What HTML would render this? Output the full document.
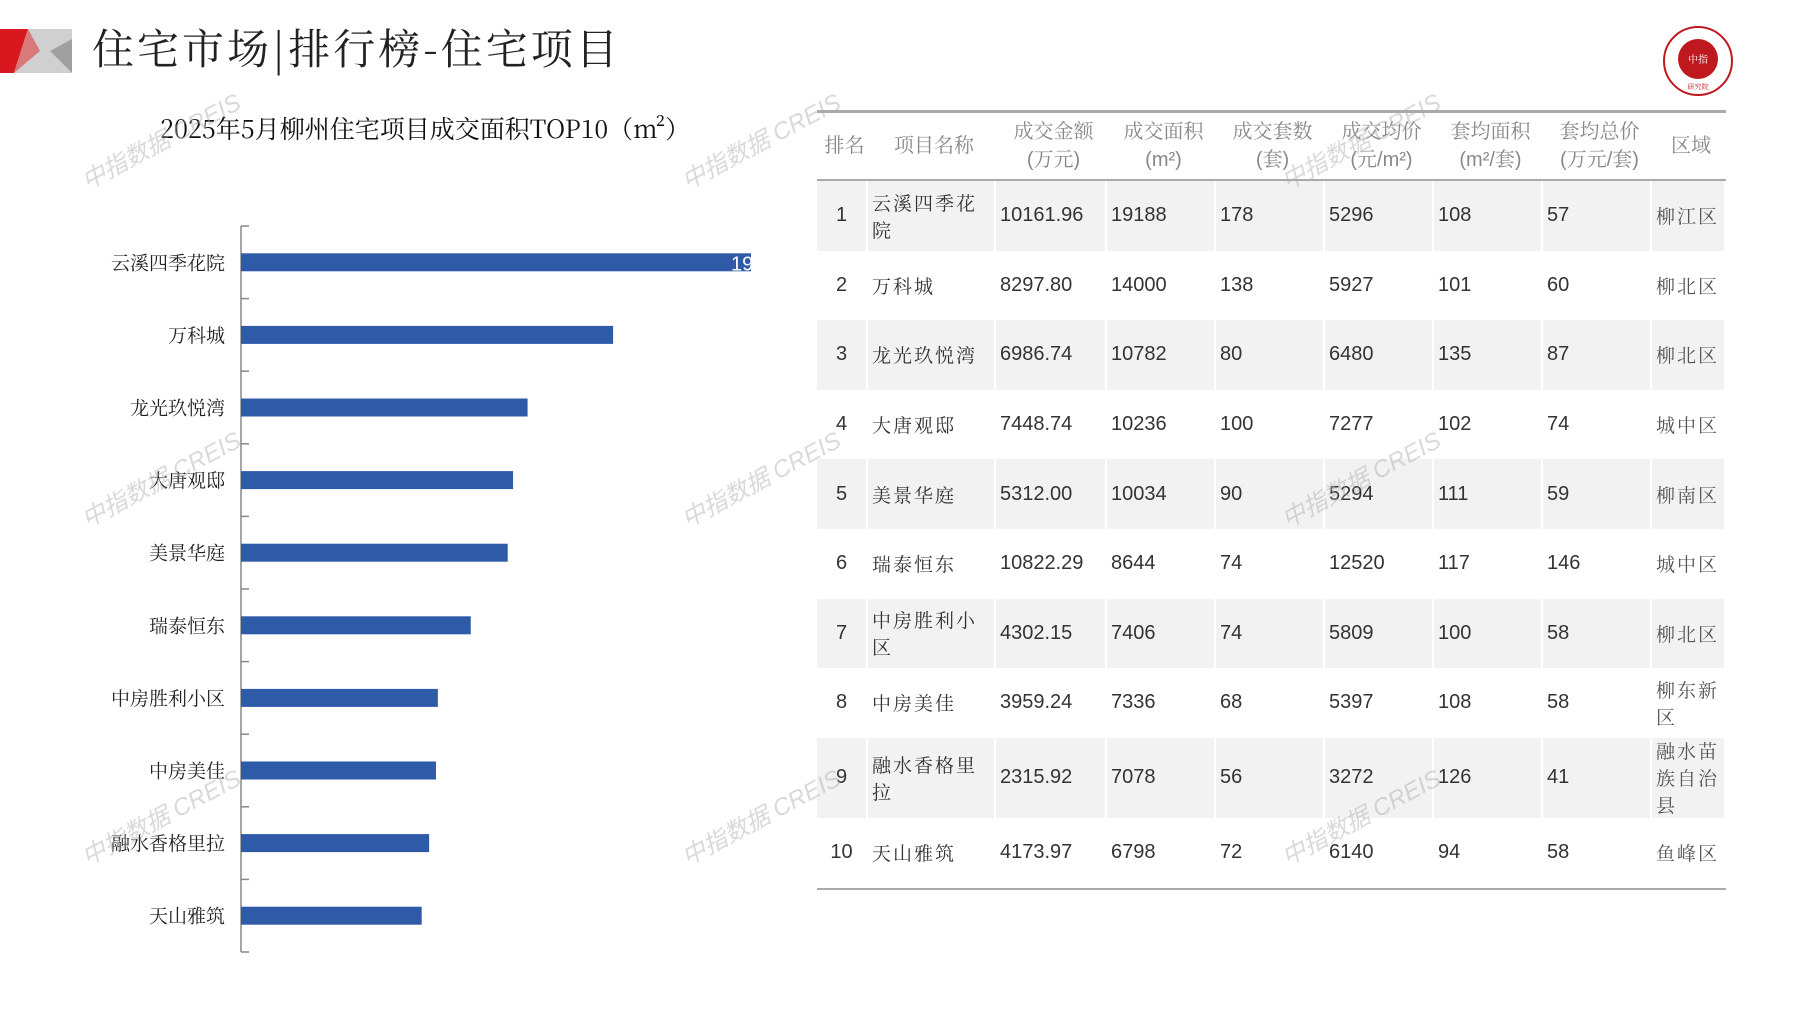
<!DOCTYPE html>
<html><head><meta charset="utf-8">
<style>
body{margin:0;width:1797px;height:1010px;background:#fff;position:relative;overflow:hidden;font-family:"Liberation Sans Narrow","Liberation Sans","Noto Serif CJK SC","Noto Sans CJK SC",sans-serif;}
.abs{position:absolute}
.wm{position:absolute;color:rgba(170,170,170,0.45);font-size:24px;transform:rotate(-28deg);white-space:nowrap;font-family:"Liberation Sans","Noto Sans CJK SC",sans-serif;font-style:italic;pointer-events:none;z-index:5}
.cell{position:absolute;font-size:20px;color:#333;display:flex;align-items:center;box-sizing:border-box;padding-left:4px;line-height:27px}
.hd{color:#888;justify-content:center;text-align:center;line-height:28px}
</style></head><body>
<svg class="abs" style="left:0;top:29px" width="74" height="44">
<polygon points="0,0 28,0 14,44 0,44" fill="#d7191f"/>
<polygon points="28,0 72,0 72,44 14,44" fill="#d0d0d0"/>
<polygon points="72,10 50,22 72,44" fill="#a0a0a0"/>
<polygon points="14,44 28,0 40,22" fill="#e04040" opacity="0.6"/>
</svg>
<div class="abs" style="left:92px;top:17px;font-size:42px;color:#222;letter-spacing:3px;font-family:'Noto Serif CJK SC','Noto Sans CJK SC',sans-serif">住宅市场|排行榜-住宅项目</div>
<svg class="abs" style="left:1662px;top:25px" width="72" height="72">
<circle cx="36" cy="36" r="34" fill="#fff" stroke="#c0181f" stroke-width="2"/>
<circle cx="36" cy="34" r="20" fill="#c0181f"/>
<text x="36" y="64" font-size="7" fill="#c0181f" text-anchor="middle">研究院</text>
<text x="36" y="38" font-size="10" fill="#fff" text-anchor="middle">中指</text>
</svg>
<div class="abs" style="left:160px;top:110px;font-size:25px;color:#111;font-family:'Liberation Sans Narrow','Noto Serif CJK SC',sans-serif">2025年5月柳州住宅项目成交面积TOP10（m²）</div>
<svg id="chart" class="abs" style="left:0;top:0" width="800" height="1010"></svg>
<div id="table"></div>
<script>
const categories=["云溪四季花院","万科城","龙光玖悦湾","大唐观邸","美景华庭","瑞泰恒东","中房胜利小区","中房美佳","融水香格里拉","天山雅筑"];
const areaValues=[19188,14000,10782,10236,10034,8644,7406,7336,7078,6798];
const NS="http://www.w3.org/2000/svg";
const svg=document.getElementById('chart');
const x0=241,xMax=751,top0=226,step=72.6,barH=18;
const xs=v=>x0+(xMax-x0)*v/19188;
const yc=i=>top0+step*(i+0.5);
function mk(t,a){const e=document.createElementNS(NS,t);for(const k in a)e.setAttribute(k,a[k]);svg.appendChild(e);return e;}
const defs=mk('defs',{});
const cp=document.createElementNS(NS,'clipPath');cp.setAttribute('id','clip');
const cr=document.createElementNS(NS,'rect');cr.setAttribute('x',0);cr.setAttribute('y',0);cr.setAttribute('width',xMax);cr.setAttribute('height',1010);
cp.appendChild(cr);defs.appendChild(cp);
const ax=mk('line',{x1:x0,x2:x0,y1:top0,y2:top0+step*categories.length,stroke:'#888','stroke-width':1.5});


for(let i=0;i<=categories.length;i++){
 const t=mk('line',{x1:x0,x2:x0+8,y1:top0+step*i,y2:top0+step*i,stroke:'#888','stroke-width':1.5});
 
 
}
categories.forEach((c,i)=>{
 const r=mk('rect',{x:x0,y:yc(i)-barH/2,width:xs(areaValues[i])-x0,height:barH,fill:'#2f5aa8'});
 
 
 const l=mk('text',{x:225,y:yc(i)+7,'text-anchor':'end','font-size':19,fill:'#222','font-family':'Noto Serif CJK SC,Noto Sans CJK SC,sans-serif'});
 l.textContent=c;
 
 
});
const vl=mk('text',{x:xs(areaValues[0])-20,y:yc(0)+8,'font-size':20,fill:'#fff','clip-path':'url(#clip)'});
vl.textContent=areaValues[0];



const headers=["排名","项目名称","成交金额<br>(万元)","成交面积<br>(m²)","成交套数<br>(套)","成交均价<br>(元/m²)","套均面积<br>(m²/套)","套均总价<br>(万元/套)","区域"];
const rows=[
["1","云溪四季花院","10161.96","19188","178","5296","108","57","柳江区"],
["2","万科城","8297.80","14000","138","5927","101","60","柳北区"],
["3","龙光玖悦湾","6986.74","10782","80","6480","135","87","柳北区"],
["4","大唐观邸","7448.74","10236","100","7277","102","74","城中区"],
["5","美景华庭","5312.00","10034","90","5294","111","59","柳南区"],
["6","瑞泰恒东","10822.29","8644","74","12520","117","146","城中区"],
["7","中房胜利小区","4302.15","7406","74","5809","100","58","柳北区"],
["8","中房美佳","3959.24","7336","68","5397","108","58","柳东新区"],
["9","融水香格里拉","2315.92","7078","56","3272","126","41","融水苗族自治县"],
["10","天山雅筑","4173.97","6798","72","6140","94","58","鱼峰区"]];
const colX=[817,868,996,1107,1216,1325,1434,1543,1652,1726];
const rowH=[69.6,69.6,69.6,69.6,69.6,69.6,69.6,69.6,80.3,69.6];
const T=document.getElementById('table');
function div(cls,l,t,w,h,html){const d=document.createElement('div');d.className=cls;d.style.left=l+'px';d.style.top=t+'px';d.style.width=w+'px';d.style.height=h+'px';d.innerHTML=html;T.appendChild(d);return d;}
const TW=colX[9]-colX[0];
const l1=div('abs',817,110,TW,3,'');l1.style.background='#aaa';


headers.forEach((h,j)=>{
 const d=div('cell hd',colX[j],112,colX[j+1]-colX[j],67,h);
 
 
});
const l2=div('abs',817,179,TW,2,'');l2.style.background='#aaa';


let y=181;
rows.forEach((r,i)=>{
 r.forEach((v,j)=>{
  const w=colX[j+1]-colX[j]-2;
  const d=div('cell',colX[j],y,w,rowH[i],v);
  if(i%2===0)d.style.background='#f2f2f2';
  if(j===0){d.style.justifyContent='center';d.style.paddingLeft='0';}
  if(j===1||j===8){d.style.fontFamily="'Noto Serif CJK SC','Noto Sans CJK SC',sans-serif";d.style.fontSize='19px';d.style.letterSpacing='2px';}
  if(j===8){d.style.color='#555';}
  
  
 });
 y+=rowH[i];
});
const l3=div('abs',817,y,TW,2,'');l3.style.background='#aaa';


const wmPos=[[72,122],[672,122],[1272,122],[72,460],[672,460],[1272,460],[72,798],[672,798],[1272,798]];
wmPos.forEach(p=>{const d=document.createElement('div');d.className='wm';d.style.left=p[0]+'px';d.style.top=p[1]+'px';d.textContent='中指数据 CREIS';
 
 
 document.body.appendChild(d);});
</script>
</body></html>
